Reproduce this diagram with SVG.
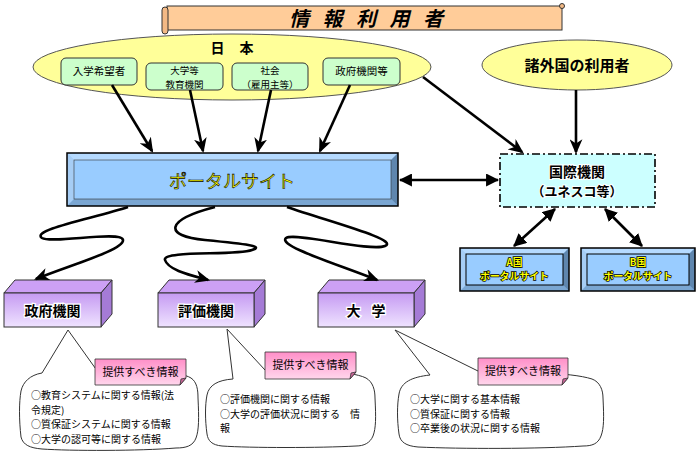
<svg xmlns="http://www.w3.org/2000/svg" width="700" height="452" viewBox="0 0 700 452">
<style>
text{font-family:"Noto Sans CJK JP","Noto Sans",sans-serif;}
.c{text-anchor:middle;}
.b{font-weight:bold;}
.line{fill:none;stroke:#000;stroke-width:2.6;}
.grn{fill:#CCFFCC;stroke:#333;stroke-width:1;}
.sm{font-size:10.5px;fill:#000;}
.sm2{font-size:9.5px;fill:#000;}
.bt{font-size:10px;fill:#000;}
.lbl{font-size:11px;fill:#000;}
.bub{fill:#fff;stroke:#333;stroke-width:1;}
.pk{fill:url(#pink);stroke:#333;stroke-width:0.8;}
.pf{fill:#CC6699;stroke:#333;stroke-width:0.8;}
.pt{fill:#CCA0F5;stroke:#333;stroke-width:1;}
.pr{fill:#A57BD6;stroke:#333;stroke-width:1;}
.pfr{fill:url(#purp);stroke:#333;stroke-width:1;}
.ptx{font-size:14px;font-weight:bold;fill:#000;stroke:#fff;stroke-width:2.5;paint-order:stroke;}
.yt{font-size:9.8px;font-weight:bold;fill:#FFFF00;stroke:#000;stroke-width:1.4;paint-order:stroke;}
</style>
<defs>
<linearGradient id="pink" x1="0" y1="0" x2="0" y2="1"><stop offset="0" stop-color="#FF8FC8"/><stop offset="1" stop-color="#FFD6EC"/></linearGradient>
<linearGradient id="purp" x1="0" y1="0" x2="0" y2="1"><stop offset="0" stop-color="#C59AF2"/><stop offset="1" stop-color="#EFE3FF"/></linearGradient>
<marker id="ah" viewBox="0 0 14 12" refX="12" refY="6" markerWidth="15" markerHeight="13" orient="auto" markerUnits="userSpaceOnUse"><path d="M0,0 L14,6 L0,12 L4,6 z" fill="#000"/></marker>
<marker id="tri" viewBox="0 0 12 12" refX="11" refY="6" markerWidth="13" markerHeight="13" orient="auto-start-reverse" markerUnits="userSpaceOnUse"><path d="M0,0 L12,6 L0,12 z" fill="#000"/></marker>
</defs>
<rect width="700" height="452" fill="#fff"/>

<g id="title">
<rect x="167" y="6" width="395" height="24" fill="#FFCC99" stroke="#333" stroke-width="1"/>
<rect x="162" y="7" width="6" height="27" rx="3" fill="#F3B985" stroke="#333" stroke-width="1"/>
<circle cx="562" cy="6" r="2.5" fill="#F3B985" stroke="#333" stroke-width="1"/>
<text x="366" y="26" class="c b" font-size="20" font-style="italic" word-spacing="9" fill="#000">情 報 利 用 者</text>
</g>

<g id="japan">
<ellipse cx="232" cy="67" rx="199" ry="33" fill="#FFFF99" stroke="#555" stroke-width="1"/>
<text x="232" y="53" class="c b" font-size="14" word-spacing="12" fill="#000">日 本</text>
</g>
<g id="n-applicants">
<rect x="61" y="58" width="76" height="27" rx="5" class="grn"/>
<text x="99" y="75" class="c sm">入学希望者</text>
</g>
<g id="n-edu">
<rect x="146" y="63" width="77" height="27" rx="5" class="grn"/>
<text x="184.5" y="74" class="c sm2">大学等</text>
<text x="184.5" y="87.8" class="c sm2">教育機関</text>
</g>
<g id="n-society">
<rect x="232" y="63" width="76" height="27" rx="5" class="grn"/>
<text x="270" y="74" class="c sm2">社会</text>
<text x="270" y="87.8" class="c sm2">（雇用主等）</text>
</g>
<g id="n-gov">
<rect x="323" y="58" width="77" height="27" rx="5" class="grn"/>
<text x="361.5" y="75" class="c sm">政府機関等</text>
</g>

<g id="foreign">
<ellipse cx="577" cy="65" rx="95" ry="25" fill="#FFFF99" stroke="#555" stroke-width="1"/>
<text x="577" y="71" class="c b" font-size="15" fill="#000">諸外国の利用者</text>
</g>

<g id="portal">
<rect x="67" y="153" width="331" height="53" fill="#99CCFF"/>
<polygon points="67,153 398,153 391,160 74,160" fill="#B5DAFF"/>
<polygon points="67,153 74,160 74,199 67,206" fill="#A6CDF5"/>
<polygon points="67,206 74,199 391,199 398,206" fill="#7AA6D2"/>
<polygon points="398,153 398,206 391,199 391,160" fill="#5F86AE"/>
<rect x="74" y="160" width="317" height="39" fill="#99CCFF" stroke="#333" stroke-width="0.6"/>
<rect x="67" y="153" width="331" height="53" fill="none" stroke="#000" stroke-width="1.5"/>
<text x="232" y="188" class="c" font-size="18" fill="#FFFF00" stroke="#000" stroke-width="0.6">ポータルサイト</text>
</g>

<g id="intl">
<rect x="500" y="154" width="155" height="53" fill="#CCFFFF" stroke="#000" stroke-width="1.6" stroke-dasharray="8,3,2,3"/>
<text x="577" y="177" class="c b" font-size="14" fill="#000" stroke="#fff" stroke-width="2" paint-order="stroke">国際機関</text>
<text x="577" y="196" class="c b" font-size="13" fill="#000" stroke="#fff" stroke-width="2" paint-order="stroke">（ユネスコ等）</text>
</g>

<g id="portal-a">
<rect x="460" y="248" width="109" height="43" fill="#99CCFF"/>
<polygon points="460,248 569,248 563,254 466,254" fill="#B5DAFF"/>
<polygon points="460,248 466,254 466,285 460,291" fill="#A6CDF5"/>
<polygon points="460,291 466,285 563,285 569,291" fill="#7AA6D2"/>
<polygon points="569,248 569,291 563,285 563,254" fill="#5F86AE"/>
<rect x="466" y="254" width="97" height="31" fill="#99CCFF" stroke="#000" stroke-width="1"/>
<rect x="460" y="248" width="109" height="43" fill="none" stroke="#000" stroke-width="1.5"/>
<text x="514.5" y="265.5" class="c yt">A国</text>
<text x="514.5" y="280" class="c yt">ポータルサイト</text>
</g>
<g id="portal-b">
<rect x="581" y="248" width="114" height="43" fill="#99CCFF"/>
<polygon points="581,248 695,248 689,254 587,254" fill="#B5DAFF"/>
<polygon points="581,248 587,254 587,285 581,291" fill="#A6CDF5"/>
<polygon points="581,291 587,285 689,285 695,291" fill="#7AA6D2"/>
<polygon points="695,248 695,291 689,285 689,254" fill="#5F86AE"/>
<rect x="587" y="254" width="102" height="31" fill="#99CCFF" stroke="#000" stroke-width="1"/>
<rect x="581" y="248" width="114" height="43" fill="none" stroke="#000" stroke-width="1.5"/>
<text x="638" y="265.5" class="c yt">B国</text>
<text x="638" y="280" class="c yt">ポータルサイト</text>
</g>

<g id="gov">
<polygon points="4,293 15,280 112,280 101,293" class="pt"/>
<polygon points="101,293 112,280 112,314 101,327" class="pr"/>
<rect x="4" y="293" width="97" height="34" class="pfr"/>
<text x="52.5" y="316" class="c ptx">政府機関</text>
</g>
<g id="eval">
<polygon points="158,293 169,280 265,280 254,293" class="pt"/>
<polygon points="254,293 265,280 265,314 254,327" class="pr"/>
<rect x="158" y="293" width="96" height="34" class="pfr"/>
<text x="206" y="316" class="c ptx">評価機関</text>
</g>
<g id="univ">
<polygon points="318,293 329,280 425,280 414,293" class="pt"/>
<polygon points="414,293 425,280 425,314 414,327" class="pr"/>
<rect x="318" y="293" width="96" height="34" class="pfr"/>
<text x="366" y="316" class="c ptx" word-spacing="8">大 学</text>
</g>

<g id="connectors">
<line x1="112" y1="85" x2="152" y2="151" class="line" marker-end="url(#ah)"/>
<line x1="190" y1="90" x2="203" y2="151" class="line" marker-end="url(#ah)"/>
<line x1="271" y1="90" x2="258" y2="151" class="line" marker-end="url(#ah)"/>
<line x1="350" y1="85" x2="320" y2="151" class="line" marker-end="url(#ah)"/>
<line x1="423" y1="77" x2="522" y2="152" class="line" marker-end="url(#ah)"/>
<line x1="576" y1="90" x2="576" y2="152" class="line" marker-end="url(#ah)"/>
<line x1="400" y1="180" x2="498" y2="180" class="line" marker-start="url(#tri)" marker-end="url(#tri)"/>
<line x1="555" y1="209" x2="514" y2="246" class="line" marker-start="url(#tri)" marker-end="url(#tri)"/>
<line x1="605" y1="209" x2="642" y2="246" class="line" marker-start="url(#tri)" marker-end="url(#tri)"/>
<path d="M128,207 C95,218 30,230 42,238 C52,244 122,230 123,240 C124,250 70,265 36,279" class="line" marker-end="url(#ah)"/>
<path d="M215,207 C165,220 163,236 205,240 C245,244 265,246 252,250 C235,256 162,250 165,260 C168,270 190,275 208,280" class="line" marker-end="url(#ah)"/>
<path d="M287,207 C330,222 400,240 385,246 C370,252 295,232 286,238 C277,246 340,265 377,280" class="line" marker-end="url(#ah)"/>
</g>

<g id="bubble-gov">
<path d="M42,373 L68,330 L98,372 C140,370 180,371 191,378 C197,382 198,390 198,398 C199,418 199,430 196,438 C193,446 186,448 176,448 C140,451 70,451 42,449 C30,448 23,445 21,437 C19,420 19,402 21,391 C23,382 30,375 42,373 Z" class="bub"/>
<path d="M95,359 L186,359 L186,378 L180,385 L95,385 Z" class="pk"/>
<path d="M180,385 L181,379 L186,378 Z" class="pf"/>
<text x="140.5" y="376" class="c lbl">提供すべき情報</text>
<text x="31" y="399" class="bt">○教育システムに関する情報(法</text>
<text x="31" y="413.5" class="bt">令規定)</text>
<text x="31" y="428" class="bt">○質保証システムに関する情報</text>
<text x="31" y="442.5" class="bt">○大学の認可等に関する情報</text>
</g>

<g id="bubble-eval">
<path d="M233,379 L227,329 L265,370 C300,370 350,370 366,378 C373,382 375,390 375,398 C376,418 376,428 373,436 C370,443 364,446 356,446 C320,448 250,448 222,446 C212,445 208,441 207,434 C205,420 205,405 207,395 C209,385 218,380 233,379 Z" class="bub"/>
<path d="M265,352 L356,352 L356,372 L350,379 L265,379 Z" class="pk"/>
<path d="M350,379 L351,373 L356,372 Z" class="pf"/>
<text x="310.5" y="369" class="c lbl">提供すべき情報</text>
<text x="220" y="403" class="bt">○評価機関に関する情報</text>
<text x="220" y="417.5" class="bt">○大学の評価状況に関する　情</text>
<text x="220" y="432" class="bt">報</text>
</g>

<g id="bubble-univ">
<path d="M430,375 L395,330 L480,372 C520,372 570,372 592,379 C600,382 603,390 603,398 C604,418 604,428 601,436 C598,444 592,446 583,446 C540,449 460,449 418,447 C406,446 400,442 399,434 C397,420 397,405 399,394 C401,382 412,377 430,375 Z" class="bub"/>
<path d="M478,358 L568,358 L568,378 L562,385 L478,385 Z" class="pk"/>
<path d="M562,385 L563,379 L568,378 Z" class="pf"/>
<text x="523" y="375" class="c lbl">提供すべき情報</text>
<text x="410" y="403" class="bt">○大学に関する基本情報</text>
<text x="410" y="417.5" class="bt">○質保証に関する情報</text>
<text x="410" y="432" class="bt">○卒業後の状況に関する情報</text>
</g>
</svg>
